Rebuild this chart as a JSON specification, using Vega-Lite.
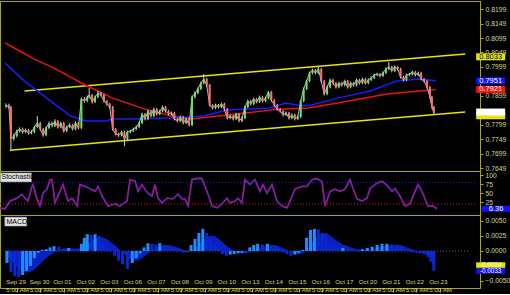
{
  "$schema": "https://vega.github.io/schema/vega-lite/v6.json",
  "background": "black",
  "padding": {"left": -5, "top": 0, "right": 0, "bottom": 0},
  "bounds": "flush",
  "spacing": 0,
  "config": {
    "view": {"stroke": "#a8a800", "strokeWidth": 1, "fill": "black"},
    "axis": {"labelColor": "#d6d68c", "labelFont": "Liberation Sans", "labelFontSize": 7, "domainColor": "#a8a800", "tickColor": "#a8a800", "grid": false, "labelOverlap": false, "labelFlush": false, "labelBound": false},
    "axisY": {"orient": "right", "tickSize": 3, "labelPadding": 2, "labelFontSize": 6.8}
  },
  "datasets": {
    "price": [
      {"t":1,"o":0.7862,"c":0.7867,"hi":0.7873,"lo":0.7856},
      {"t":4,"o":0.7867,"c":0.7860,"hi":0.7872,"lo":0.7855},
      {"t":6,"o":0.7860,"c":0.7750,"hi":0.7864,"lo":0.7711},
      {"t":9,"o":0.7750,"c":0.7760,"hi":0.7768,"lo":0.7744},
      {"t":12,"o":0.7760,"c":0.7777,"hi":0.7782,"lo":0.7755},
      {"t":15,"o":0.7777,"c":0.7784,"hi":0.7790,"lo":0.7772},
      {"t":18,"o":0.7784,"c":0.7774,"hi":0.7789,"lo":0.7768},
      {"t":21,"o":0.7774,"c":0.7781,"hi":0.7786,"lo":0.7769},
      {"t":24,"o":0.7781,"c":0.7770,"hi":0.7785,"lo":0.7765},
      {"t":27,"o":0.7770,"c":0.7774,"hi":0.7780,"lo":0.7766},
      {"t":30,"o":0.7774,"c":0.7791,"hi":0.7796,"lo":0.7770},
      {"t":33,"o":0.7791,"c":0.7805,"hi":0.7829,"lo":0.7787},
      {"t":36,"o":0.7805,"c":0.7784,"hi":0.7809,"lo":0.7779},
      {"t":39,"o":0.7784,"c":0.7763,"hi":0.7788,"lo":0.7758},
      {"t":42,"o":0.7763,"c":0.7788,"hi":0.7793,"lo":0.7759},
      {"t":45,"o":0.7788,"c":0.7805,"hi":0.7810,"lo":0.7784},
      {"t":48,"o":0.7805,"c":0.7795,"hi":0.7809,"lo":0.7790},
      {"t":51,"o":0.7795,"c":0.7812,"hi":0.7818,"lo":0.7791},
      {"t":54,"o":0.7812,"c":0.7791,"hi":0.7816,"lo":0.7786},
      {"t":57,"o":0.7791,"c":0.7805,"hi":0.7810,"lo":0.7787},
      {"t":60,"o":0.7805,"c":0.7777,"hi":0.7809,"lo":0.7772},
      {"t":63,"o":0.7777,"c":0.7791,"hi":0.7796,"lo":0.7773},
      {"t":66,"o":0.7791,"c":0.7798,"hi":0.7804,"lo":0.7787},
      {"t":69,"o":0.7798,"c":0.7784,"hi":0.7802,"lo":0.7779},
      {"t":72,"o":0.7784,"c":0.7805,"hi":0.7810,"lo":0.7780},
      {"t":75,"o":0.7805,"c":0.7788,"hi":0.7809,"lo":0.7783},
      {"t":78,"o":0.7788,"c":0.7888,"hi":0.7893,"lo":0.7784},
      {"t":81,"o":0.7888,"c":0.7881,"hi":0.7895,"lo":0.7875},
      {"t":84,"o":0.7881,"c":0.7895,"hi":0.7900,"lo":0.7877},
      {"t":86,"o":0.7895,"c":0.7902,"hi":0.7926,"lo":0.7890},
      {"t":89,"o":0.7902,"c":0.7878,"hi":0.7906,"lo":0.7872},
      {"t":92,"o":0.7878,"c":0.7895,"hi":0.7900,"lo":0.7874},
      {"t":95,"o":0.7895,"c":0.7909,"hi":0.7916,"lo":0.7891},
      {"t":98,"o":0.7909,"c":0.7902,"hi":0.7913,"lo":0.7897},
      {"t":101,"o":0.7902,"c":0.7881,"hi":0.7906,"lo":0.7876},
      {"t":104,"o":0.7881,"c":0.7871,"hi":0.7885,"lo":0.7866},
      {"t":107,"o":0.7871,"c":0.7860,"hi":0.7875,"lo":0.7855},
      {"t":110,"o":0.7860,"c":0.7784,"hi":0.7864,"lo":0.7779},
      {"t":113,"o":0.7784,"c":0.7767,"hi":0.7788,"lo":0.7762},
      {"t":116,"o":0.7767,"c":0.7763,"hi":0.7771,"lo":0.7757},
      {"t":119,"o":0.7763,"c":0.7774,"hi":0.7779,"lo":0.7759},
      {"t":122,"o":0.7774,"c":0.7750,"hi":0.7778,"lo":0.7725},
      {"t":125,"o":0.7750,"c":0.7774,"hi":0.7779,"lo":0.7746},
      {"t":128,"o":0.7774,"c":0.7777,"hi":0.7782,"lo":0.7769},
      {"t":131,"o":0.7777,"c":0.7784,"hi":0.7789,"lo":0.7773},
      {"t":134,"o":0.7784,"c":0.7791,"hi":0.7796,"lo":0.7780},
      {"t":137,"o":0.7791,"c":0.7805,"hi":0.7810,"lo":0.7787},
      {"t":140,"o":0.7805,"c":0.7836,"hi":0.7841,"lo":0.7801},
      {"t":143,"o":0.7836,"c":0.7819,"hi":0.7840,"lo":0.7814},
      {"t":146,"o":0.7819,"c":0.7846,"hi":0.7851,"lo":0.7815},
      {"t":149,"o":0.7846,"c":0.7829,"hi":0.7850,"lo":0.7824},
      {"t":152,"o":0.7829,"c":0.7853,"hi":0.7858,"lo":0.7825},
      {"t":155,"o":0.7853,"c":0.7836,"hi":0.7857,"lo":0.7831},
      {"t":158,"o":0.7836,"c":0.7846,"hi":0.7851,"lo":0.7832},
      {"t":161,"o":0.7846,"c":0.7860,"hi":0.7866,"lo":0.7842},
      {"t":164,"o":0.7860,"c":0.7846,"hi":0.7864,"lo":0.7841},
      {"t":167,"o":0.7846,"c":0.7836,"hi":0.7850,"lo":0.7831},
      {"t":170,"o":0.7836,"c":0.7840,"hi":0.7845,"lo":0.7832},
      {"t":173,"o":0.7840,"c":0.7819,"hi":0.7844,"lo":0.7814},
      {"t":176,"o":0.7819,"c":0.7812,"hi":0.7823,"lo":0.7807},
      {"t":179,"o":0.7812,"c":0.7826,"hi":0.7831,"lo":0.7808},
      {"t":182,"o":0.7826,"c":0.7805,"hi":0.7830,"lo":0.7800},
      {"t":185,"o":0.7805,"c":0.7819,"hi":0.7824,"lo":0.7801},
      {"t":188,"o":0.7819,"c":0.7798,"hi":0.7823,"lo":0.7793},
      {"t":191,"o":0.7798,"c":0.7895,"hi":0.7900,"lo":0.7794},
      {"t":194,"o":0.7895,"c":0.7909,"hi":0.7914,"lo":0.7890},
      {"t":197,"o":0.7909,"c":0.7923,"hi":0.7928,"lo":0.7905},
      {"t":200,"o":0.7923,"c":0.7943,"hi":0.7948,"lo":0.7919},
      {"t":203,"o":0.7943,"c":0.7957,"hi":0.7974,"lo":0.7939},
      {"t":206,"o":0.7957,"c":0.7936,"hi":0.7961,"lo":0.7931},
      {"t":209,"o":0.7936,"c":0.7867,"hi":0.7940,"lo":0.7862},
      {"t":212,"o":0.7867,"c":0.7857,"hi":0.7871,"lo":0.7852},
      {"t":215,"o":0.7857,"c":0.7867,"hi":0.7872,"lo":0.7853},
      {"t":218,"o":0.7867,"c":0.7860,"hi":0.7871,"lo":0.7855},
      {"t":221,"o":0.7860,"c":0.7871,"hi":0.7876,"lo":0.7856},
      {"t":224,"o":0.7871,"c":0.7853,"hi":0.7875,"lo":0.7848},
      {"t":227,"o":0.7853,"c":0.7822,"hi":0.7857,"lo":0.7817},
      {"t":230,"o":0.7822,"c":0.7829,"hi":0.7834,"lo":0.7818},
      {"t":233,"o":0.7829,"c":0.7819,"hi":0.7833,"lo":0.7814},
      {"t":236,"o":0.7819,"c":0.7836,"hi":0.7841,"lo":0.7815},
      {"t":239,"o":0.7836,"c":0.7812,"hi":0.7840,"lo":0.7807},
      {"t":242,"o":0.7812,"c":0.7822,"hi":0.7827,"lo":0.7808},
      {"t":245,"o":0.7822,"c":0.7860,"hi":0.7865,"lo":0.7818},
      {"t":248,"o":0.7860,"c":0.7881,"hi":0.7886,"lo":0.7856},
      {"t":251,"o":0.7881,"c":0.7871,"hi":0.7885,"lo":0.7866},
      {"t":254,"o":0.7871,"c":0.7888,"hi":0.7893,"lo":0.7867},
      {"t":257,"o":0.7888,"c":0.7878,"hi":0.7892,"lo":0.7873},
      {"t":260,"o":0.7878,"c":0.7895,"hi":0.7900,"lo":0.7874},
      {"t":263,"o":0.7895,"c":0.7881,"hi":0.7899,"lo":0.7876},
      {"t":266,"o":0.7881,"c":0.7891,"hi":0.7896,"lo":0.7877},
      {"t":269,"o":0.7891,"c":0.7912,"hi":0.7917,"lo":0.7887},
      {"t":272,"o":0.7912,"c":0.7884,"hi":0.7916,"lo":0.7879},
      {"t":275,"o":0.7884,"c":0.7867,"hi":0.7888,"lo":0.7862},
      {"t":278,"o":0.7867,"c":0.7853,"hi":0.7871,"lo":0.7848},
      {"t":281,"o":0.7853,"c":0.7846,"hi":0.7857,"lo":0.7841},
      {"t":284,"o":0.7846,"c":0.7833,"hi":0.7850,"lo":0.7828},
      {"t":287,"o":0.7833,"c":0.7840,"hi":0.7845,"lo":0.7829},
      {"t":290,"o":0.7840,"c":0.7822,"hi":0.7844,"lo":0.7817},
      {"t":293,"o":0.7822,"c":0.7833,"hi":0.7838,"lo":0.7818},
      {"t":296,"o":0.7833,"c":0.7819,"hi":0.7837,"lo":0.7814},
      {"t":299,"o":0.7819,"c":0.7826,"hi":0.7831,"lo":0.7815},
      {"t":302,"o":0.7826,"c":0.7881,"hi":0.7886,"lo":0.7822},
      {"t":305,"o":0.7881,"c":0.7923,"hi":0.7928,"lo":0.7877},
      {"t":308,"o":0.7923,"c":0.7950,"hi":0.7955,"lo":0.7919},
      {"t":311,"o":0.7950,"c":0.7978,"hi":0.7983,"lo":0.7946},
      {"t":314,"o":0.7978,"c":0.7988,"hi":0.7993,"lo":0.7974},
      {"t":317,"o":0.7988,"c":0.7978,"hi":0.7992,"lo":0.7973},
      {"t":320,"o":0.7978,"c":0.7992,"hi":0.7999,"lo":0.7974},
      {"t":323,"o":0.7992,"c":0.7950,"hi":0.7996,"lo":0.7945},
      {"t":326,"o":0.7950,"c":0.7905,"hi":0.7954,"lo":0.7900},
      {"t":329,"o":0.7905,"c":0.7929,"hi":0.7934,"lo":0.7901},
      {"t":332,"o":0.7929,"c":0.7954,"hi":0.7959,"lo":0.7925},
      {"t":335,"o":0.7954,"c":0.7943,"hi":0.7958,"lo":0.7938},
      {"t":338,"o":0.7943,"c":0.7929,"hi":0.7947,"lo":0.7924},
      {"t":341,"o":0.7929,"c":0.7943,"hi":0.7948,"lo":0.7925},
      {"t":344,"o":0.7943,"c":0.7936,"hi":0.7947,"lo":0.7931},
      {"t":347,"o":0.7936,"c":0.7950,"hi":0.7955,"lo":0.7932},
      {"t":350,"o":0.7950,"c":0.7929,"hi":0.7954,"lo":0.7924},
      {"t":353,"o":0.7929,"c":0.7943,"hi":0.7948,"lo":0.7925},
      {"t":356,"o":0.7943,"c":0.7936,"hi":0.7947,"lo":0.7931},
      {"t":359,"o":0.7936,"c":0.7954,"hi":0.7959,"lo":0.7932},
      {"t":362,"o":0.7954,"c":0.7943,"hi":0.7958,"lo":0.7938},
      {"t":365,"o":0.7943,"c":0.7957,"hi":0.7962,"lo":0.7939},
      {"t":368,"o":0.7957,"c":0.7943,"hi":0.7961,"lo":0.7938},
      {"t":371,"o":0.7943,"c":0.7954,"hi":0.7959,"lo":0.7939},
      {"t":374,"o":0.7954,"c":0.7961,"hi":0.7966,"lo":0.7950},
      {"t":377,"o":0.7961,"c":0.7971,"hi":0.7976,"lo":0.7957},
      {"t":380,"o":0.7971,"c":0.7974,"hi":0.7979,"lo":0.7967},
      {"t":383,"o":0.7974,"c":0.7968,"hi":0.7978,"lo":0.7963},
      {"t":386,"o":0.7968,"c":0.7978,"hi":0.7983,"lo":0.7964},
      {"t":389,"o":0.7978,"c":0.7992,"hi":0.7997,"lo":0.7974},
      {"t":392,"o":0.7992,"c":0.7999,"hi":0.8016,"lo":0.7988},
      {"t":395,"o":0.7999,"c":0.7985,"hi":0.8003,"lo":0.7980},
      {"t":398,"o":0.7985,"c":0.7999,"hi":0.8004,"lo":0.7981},
      {"t":401,"o":0.7999,"c":0.7992,"hi":0.8003,"lo":0.7987},
      {"t":404,"o":0.7992,"c":0.7964,"hi":0.7996,"lo":0.7959},
      {"t":407,"o":0.7964,"c":0.7954,"hi":0.7968,"lo":0.7949},
      {"t":410,"o":0.7954,"c":0.7971,"hi":0.7976,"lo":0.7950},
      {"t":413,"o":0.7971,"c":0.7974,"hi":0.7979,"lo":0.7967},
      {"t":416,"o":0.7974,"c":0.7981,"hi":0.7986,"lo":0.7970},
      {"t":419,"o":0.7981,"c":0.7971,"hi":0.7985,"lo":0.7966},
      {"t":422,"o":0.7971,"c":0.7978,"hi":0.7983,"lo":0.7967},
      {"t":425,"o":0.7978,"c":0.7957,"hi":0.7982,"lo":0.7952},
      {"t":428,"o":0.7957,"c":0.7950,"hi":0.7961,"lo":0.7945},
      {"t":431,"o":0.7950,"c":0.7929,"hi":0.7954,"lo":0.7924},
      {"t":434,"o":0.7929,"c":0.7895,"hi":0.7933,"lo":0.7890},
      {"t":436,"o":0.7895,"c":0.7860,"hi":0.7899,"lo":0.7855},
      {"t":438,"o":0.7860,"c":0.7840,"hi":0.7864,"lo":0.7836}
    ],
    "ma": [
      {"series":"MA slow","t":0,"v":0.8082},{"series":"MA slow","t":15,"v":0.8054},{"series":"MA slow","t":30,"v":0.8026},{"series":"MA slow","t":50,"v":0.7995},{"series":"MA slow","t":80,"v":0.7940},{"series":"MA slow","t":110,"v":0.7891},{"series":"MA slow","t":143,"v":0.7853},{"series":"MA slow","t":170,"v":0.7829},{"series":"MA slow","t":190,"v":0.7819},{"series":"MA slow","t":237,"v":0.7836},{"series":"MA slow","t":280,"v":0.7853},{"series":"MA slow","t":310,"v":0.7857},{"series":"MA slow","t":340,"v":0.7874},{"series":"MA slow","t":390,"v":0.7905},{"series":"MA slow","t":423,"v":0.7916},{"series":"MA slow","t":440,"v":0.7921},
      {"series":"MA fast","t":0,"v":0.8012},{"series":"MA fast","t":20,"v":0.7950},{"series":"MA fast","t":33,"v":0.7916},{"series":"MA fast","t":53,"v":0.7864},{"series":"MA fast","t":67,"v":0.7829},{"series":"MA fast","t":83,"v":0.7812},{"series":"MA fast","t":103,"v":0.7812},{"series":"MA fast","t":110,"v":0.7819},{"series":"MA fast","t":133,"v":0.7819},{"series":"MA fast","t":170,"v":0.7822},{"series":"MA fast","t":203,"v":0.7829},{"series":"MA fast","t":227,"v":0.7850},{"series":"MA fast","t":270,"v":0.7857},{"series":"MA fast","t":287,"v":0.7874},{"series":"MA fast","t":303,"v":0.7864},{"series":"MA fast","t":313,"v":0.7867},{"series":"MA fast","t":340,"v":0.7891},{"series":"MA fast","t":373,"v":0.7916},{"series":"MA fast","t":400,"v":0.7950},{"series":"MA fast","t":423,"v":0.7957},{"series":"MA fast","t":440,"v":0.7951}
    ],
    "channel": [
      {"line":"upper","t":20,"v":0.7916},{"line":"upper","t":470,"v":0.8044},
      {"line":"lower","t":5,"v":0.7711},{"line":"lower","t":470,"v":0.7843}
    ],
    "mainTags": [
      {"kind":"Upper channel","v":0.8034,"txt":"0.8033"},
      {"kind":"MA fast","v":0.7951,"txt":"0.7951"},
      {"kind":"MA slow","v":0.7921,"txt":"0.7921"},
      {"kind":"Lower channel","v":0.7830,"txt":"0.7834"},
      {"kind":"Bid","v":0.7843,"txt":"0.7839"}
    ],
    "stoch": [
      {"t":0,"k":9},{"t":5,"k":6},{"t":10,"k":28},{"t":17,"k":36},{"t":22,"k":47},{"t":25,"k":36},{"t":28,"k":28},{"t":32,"k":69},{"t":33,"k":74},{"t":37,"k":34},{"t":40,"k":14},{"t":43,"k":50},{"t":47,"k":61},{"t":50,"k":88},{"t":52,"k":88},{"t":55,"k":23},{"t":60,"k":55},{"t":63,"k":74},{"t":65,"k":55},{"t":68,"k":28},{"t":72,"k":36},{"t":77,"k":14},{"t":80,"k":74},{"t":85,"k":69},{"t":90,"k":63},{"t":95,"k":55},{"t":98,"k":69},{"t":102,"k":42},{"t":105,"k":28},{"t":108,"k":14},{"t":115,"k":20},{"t":120,"k":14},{"t":127,"k":28},{"t":130,"k":88},{"t":135,"k":84},{"t":138,"k":55},{"t":142,"k":74},{"t":145,"k":61},{"t":148,"k":50},{"t":152,"k":42},{"t":155,"k":74},{"t":158,"k":36},{"t":162,"k":23},{"t":167,"k":36},{"t":173,"k":34},{"t":178,"k":47},{"t":182,"k":34},{"t":185,"k":34},{"t":188,"k":14},{"t":192,"k":88},{"t":197,"k":91},{"t":202,"k":91},{"t":205,"k":69},{"t":208,"k":47},{"t":212,"k":14},{"t":217,"k":9},{"t":222,"k":20},{"t":227,"k":36},{"t":230,"k":23},{"t":235,"k":28},{"t":238,"k":36},{"t":242,"k":23},{"t":245,"k":88},{"t":250,"k":74},{"t":255,"k":88},{"t":260,"k":55},{"t":263,"k":74},{"t":267,"k":50},{"t":272,"k":74},{"t":277,"k":28},{"t":282,"k":14},{"t":287,"k":9},{"t":290,"k":28},{"t":295,"k":61},{"t":302,"k":69},{"t":307,"k":69},{"t":312,"k":88},{"t":317,"k":91},{"t":322,"k":82},{"t":325,"k":14},{"t":330,"k":55},{"t":335,"k":61},{"t":340,"k":55},{"t":345,"k":61},{"t":350,"k":88},{"t":353,"k":63},{"t":357,"k":34},{"t":362,"k":28},{"t":367,"k":36},{"t":370,"k":63},{"t":375,"k":74},{"t":380,"k":82},{"t":383,"k":82},{"t":388,"k":69},{"t":392,"k":55},{"t":395,"k":63},{"t":400,"k":42},{"t":405,"k":14},{"t":410,"k":20},{"t":413,"k":42},{"t":418,"k":74},{"t":422,"k":55},{"t":425,"k":34},{"t":428,"k":14},{"t":433,"k":14},{"t":437,"k":6.36}
    ],
    "stochLevels": [{"band":"overbought","level":80},{"band":"oversold","level":20}],
    "stochTags": [{"kind":"%K","v":6.36,"txt":"6.36"}],
    "macd": [
      {"t":2,"m":-0.0020,"s":-0.0008},{"t":6,"m":-0.0035,"s":-0.0015},{"t":10,"m":-0.0042,"s":-0.0023},{"t":14,"m":-0.0043,"s":-0.0030},{"t":18,"m":-0.0040,"s":-0.0034},{"t":22,"m":-0.0033,"s":-0.0036},{"t":26,"m":-0.0025,"s":-0.0035},{"t":30,"m":-0.0012,"s":-0.0031},{"t":34,"m":-0.0003,"s":-0.0025},{"t":38,"m":0.0002,"s":-0.0018},{"t":42,"m":0.0003,"s":-0.0012},{"t":46,"m":0.0006,"s":-0.0007},{"t":50,"m":0.0008,"s":-0.0003},{"t":55,"m":0.0007,"s":0.0002},{"t":60,"m":0.0004,"s":0.0004},{"t":65,"m":0.0005,"s":0.0005},{"t":70,"m":0.0003,"s":0.0004},{"t":74,"m":0.0002,"s":0.0004},{"t":78,"m":0.0012,"s":0.0005},{"t":81,"m":0.0022,"s":0.0008},{"t":84,"m":0.0028,"s":0.0012},{"t":88,"m":0.0027,"s":0.0017},{"t":92,"m":0.0028,"s":0.0021},{"t":96,"m":0.0025,"s":0.0023},{"t":100,"m":0.0013,"s":0.0023},{"t":104,"m":0.0005,"s":0.0020},{"t":108,"m":-0.0001,"s":0.0015},{"t":112,"m":-0.0008,"s":0.0010},{"t":116,"m":-0.0016,"s":0.0004},{"t":120,"m":-0.0022,"s":-0.0003},{"t":125,"m":-0.0030,"s":-0.0010},{"t":130,"m":-0.0020,"s":-0.0015},{"t":134,"m":-0.0012,"s":-0.0016},{"t":138,"m":-0.0004,"s":-0.0014},{"t":142,"m":0.0006,"s":-0.0010},{"t":146,"m":0.0013,"s":-0.0004},{"t":150,"m":0.0012,"s":0.0001},{"t":154,"m":0.0011,"s":0.0005},{"t":158,"m":0.0013,"s":0.0008},{"t":162,"m":0.0009,"s":0.0010},{"t":166,"m":0.0006,"s":0.0010},{"t":170,"m":0.0005,"s":0.0009},{"t":174,"m":0.0002,"s":0.0007},{"t":178,"m":-0.0001,"s":0.0005},{"t":182,"m":-0.0003,"s":0.0002},{"t":186,"m":-0.0001,"s":0.0000},{"t":190,"m":0.0010,"s":0.0001},{"t":194,"m":0.0020,"s":0.0005},{"t":198,"m":0.0030,"s":0.0010},{"t":202,"m":0.0037,"s":0.0017},{"t":206,"m":0.0030,"s":0.0023},{"t":210,"m":0.0022,"s":0.0026},{"t":214,"m":0.0010,"s":0.0025},{"t":218,"m":0.0003,"s":0.0021},{"t":222,"m":-0.0005,"s":0.0015},{"t":226,"m":-0.0008,"s":0.0009},{"t":230,"m":-0.0006,"s":0.0004},{"t":234,"m":-0.0005,"s":0.0000},{"t":238,"m":-0.0004,"s":-0.0003},{"t":242,"m":-0.0003,"s":-0.0004},{"t":246,"m":0.0000,"s":-0.0004},{"t":250,"m":0.0006,"s":-0.0002},{"t":254,"m":0.0010,"s":0.0001},{"t":258,"m":0.0012,"s":0.0004},{"t":263,"m":0.0011,"s":0.0007},{"t":268,"m":0.0012,"s":0.0009},{"t":272,"m":0.0010,"s":0.0010},{"t":276,"m":0.0007,"s":0.0010},{"t":280,"m":0.0003,"s":0.0008},{"t":284,"m":-0.0002,"s":0.0005},{"t":288,"m":-0.0005,"s":0.0002},{"t":292,"m":-0.0008,"s":-0.0002},{"t":296,"m":-0.0006,"s":-0.0004},{"t":300,"m":-0.0003,"s":-0.0005},{"t":304,"m":0.0002,"s":-0.0004},{"t":308,"m":0.0022,"s":0.0001},{"t":312,"m":0.0035,"s":0.0010},{"t":316,"m":0.0037,"s":0.0019},{"t":320,"m":0.0036,"s":0.0026},{"t":324,"m":0.0030,"s":0.0030},{"t":328,"m":0.0020,"s":0.0030},{"t":332,"m":0.0010,"s":0.0026},{"t":336,"m":0.0007,"s":0.0021},{"t":340,"m":0.0005,"s":0.0016},{"t":345,"m":0.0005,"s":0.0011},{"t":350,"m":0.0003,"s":0.0008},{"t":355,"m":0.0000,"s":0.0005},{"t":360,"m":-0.0001,"s":0.0003},{"t":365,"m":0.0003,"s":0.0002},{"t":370,"m":0.0005,"s":0.0002},{"t":375,"m":0.0007,"s":0.0003},{"t":380,"m":0.0010,"s":0.0005},{"t":385,"m":0.0012,"s":0.0007},{"t":390,"m":0.0012,"s":0.0009},{"t":395,"m":0.0011,"s":0.0010},{"t":400,"m":0.0010,"s":0.0010},{"t":404,"m":0.0007,"s":0.0010},{"t":408,"m":0.0000,"s":0.0008},{"t":412,"m":-0.0001,"s":0.0005},{"t":416,"m":-0.0002,"s":0.0003},{"t":420,"m":-0.0003,"s":0.0001},{"t":424,"m":-0.0004,"s":-0.0001},{"t":428,"m":-0.0005,"s":-0.0004},{"t":432,"m":-0.0010,"s":-0.0008},{"t":435,"m":-0.0018,"s":-0.0015},{"t":438,"m":-0.0033,"s":-0.0024}
    ],
    "macdTags": [{"kind":"Signal","v":-0.0024,"txt":"-0.0024"},{"kind":"MACD","v":-0.0033,"txt":"-0.0033"}]
  },
  "vconcat": [
    {
      "width": 480, "height": 170,
      "layer": [
        {
          "data": {"name": "channel"},
          "mark": {"type": "line", "color": "#e6e600", "strokeWidth": 1.5},
          "encoding": {
            "x": {"field": "t", "type": "quantitative", "scale": {"domain": [0, 480], "nice": false, "zero": false}, "axis": null},
            "y": {"field": "v", "type": "quantitative", "title": null, "scale": {"domain": [0.7639, 0.8227], "nice": false, "zero": false},
                  "axis": {"orient": "right", "title": null, "values": [0.7649,0.7699,0.7749,0.7799,0.7899,0.7999,0.8049,0.8099,0.8149,0.8199], "format": ".4f"}},
            "detail": {"field": "line"}
          }
        },
        {
          "data": {"name": "ma"},
          "mark": {"type": "line", "strokeWidth": 1.5},
          "encoding": {
            "x": {"field": "t", "type": "quantitative", "scale": {"domain": [0, 480], "nice": false, "zero": false}, "axis": null},
            "y": {"field": "v", "type": "quantitative", "title": null, "scale": {"domain": [0.7639, 0.8227], "nice": false, "zero": false},
                  "axis": {"orient": "right", "title": null, "values": [0.7649,0.7699,0.7749,0.7799,0.7899,0.7999,0.8049,0.8099,0.8149,0.8199], "format": ".4f"}},
            "color": {"field": "series", "type": "nominal", "scale": {"domain": ["MA fast", "MA slow"], "range": ["#1a1aff", "#ee1111"]}, "legend": null}
          }
        },
        {
          "data": {"name": "price"},
          "mark": {"type": "rule", "color": "#d0d0d0", "strokeWidth": 1},
          "encoding": {
            "x": {"field": "t", "type": "quantitative", "scale": {"domain": [0, 480], "nice": false, "zero": false}, "axis": null},
            "y": {"field": "lo", "type": "quantitative", "title": null, "scale": {"domain": [0.7639, 0.8227], "nice": false, "zero": false},
                  "axis": {"orient": "right", "title": null, "values": [0.7649,0.7699,0.7749,0.7799,0.7899,0.7999,0.8049,0.8099,0.8149,0.8199], "format": ".4f"}},
            "y2": {"field": "hi"}
          }
        },
        {
          "data": {"name": "price"},
          "mark": {"type": "line", "color": "#e8e8e8", "strokeWidth": 0.8},
          "encoding": {
            "x": {"field": "t", "type": "quantitative", "scale": {"domain": [0, 480], "nice": false, "zero": false}, "axis": null},
            "y": {"field": "c", "type": "quantitative", "title": null, "scale": {"domain": [0.7639, 0.8227], "nice": false, "zero": false},
                  "axis": {"orient": "right", "title": null, "values": [0.7649,0.7699,0.7749,0.7799,0.7899,0.7999,0.8049,0.8099,0.8149,0.8199], "format": ".4f"}}
          }
        },
        {
          "data": {"name": "price"},
          "mark": {"type": "bar", "size": 2},
          "encoding": {
            "x": {"field": "t", "type": "quantitative", "scale": {"domain": [0, 480], "nice": false, "zero": false}, "axis": null},
            "y": {"field": "o", "type": "quantitative", "title": null, "scale": {"domain": [0.7639, 0.8227], "nice": false, "zero": false},
                  "axis": {"orient": "right", "title": null, "values": [0.7649,0.7699,0.7749,0.7799,0.7899,0.7999,0.8049,0.8099,0.8149,0.8199], "format": ".4f"}},
            "y2": {"field": "c"},
            "color": {"condition": {"test": "datum.c >= datum.o", "value": "#66e066"}, "value": "#ff6f6f"}
          }
        },
        {
          "data": {"name": "mainTags"},
          "mark": {"type": "point", "shape": "M-1,-0.24H1V0.24H-1Z", "size": 841, "filled": true, "opacity": 1, "clip": false},
          "encoding": {
            "x": {"datum": 496, "type": "quantitative", "scale": {"domain": [0, 480], "nice": false, "zero": false}, "axis": null},
            "y": {"field": "v", "type": "quantitative", "title": null, "scale": {"domain": [0.7639, 0.8227], "nice": false, "zero": false},
                  "axis": {"orient": "right", "title": null, "values": [0.7649,0.7699,0.7749,0.7799,0.7899,0.7999,0.8049,0.8099,0.8149,0.8199], "format": ".4f"}},
            "fill": {"field": "kind", "type": "nominal", "scale": {"domain": ["Upper channel", "MA fast", "MA slow", "Lower channel", "Bid"], "range": ["#e6e600", "#1010ff", "#ff1010", "#e6e600", "#ffffff"]}, "legend": null}
          }
        },
        {
          "data": {"name": "mainTags"},
          "transform": [{"filter": "datum.kind != 'Bid' && datum.kind != 'Lower channel'"}],
          "mark": {"type": "text", "font": "Liberation Sans", "fontSize": 7.5, "align": "center", "baseline": "middle", "clip": false},
          "encoding": {
            "x": {"datum": 496, "type": "quantitative", "scale": {"domain": [0, 480], "nice": false, "zero": false}, "axis": null},
            "y": {"field": "v", "type": "quantitative", "title": null, "scale": {"domain": [0.7639, 0.8227], "nice": false, "zero": false},
                  "axis": {"orient": "right", "title": null, "values": [0.7649,0.7699,0.7749,0.7799,0.7899,0.7999,0.8049,0.8099,0.8149,0.8199], "format": ".4f"}},
            "text": {"field": "txt"},
            "color": {"condition": {"test": "datum.kind == 'MA fast' || datum.kind == 'MA slow'", "value": "#ffffff"}, "value": "#000000"}
          }
        }
      ]
    },
    {
      "width": 480, "height": 44,
      "layer": [
        {
          "data": {"name": "stochLevels"},
          "mark": {"type": "rule", "strokeDash": [1, 2], "strokeWidth": 1},
          "encoding": {
            "x": {"datum": 0, "type": "quantitative", "scale": {"domain": [0, 480], "nice": false, "zero": false}, "axis": null},
            "x2": {"datum": 475},
            "y": {"field": "level", "type": "quantitative", "title": null, "scale": {"domain": [-11, 112], "nice": false, "zero": false},
                  "axis": {"orient": "right", "title": null, "values": [25, 50, 75, 100]}},
            "color": {"field": "band", "type": "nominal", "scale": {"domain": ["overbought", "oversold"], "range": ["#3030ff", "#e02020"]}, "legend": null}
          }
        },
        {
          "data": {"name": "stoch"},
          "mark": {"type": "line", "color": "#2a2aff", "strokeWidth": 1.8},
          "encoding": {
            "x": {"field": "t", "type": "quantitative", "scale": {"domain": [0, 480], "nice": false, "zero": false}, "axis": null},
            "y": {"field": "k", "type": "quantitative", "title": null, "scale": {"domain": [-11, 112], "nice": false, "zero": false},
                  "axis": {"orient": "right", "title": null, "values": [25, 50, 75, 100]}}
          }
        },
        {
          "data": {"name": "stoch"},
          "mark": {"type": "line", "color": "#d4103a", "strokeWidth": 1},
          "encoding": {
            "x": {"field": "t", "type": "quantitative", "scale": {"domain": [0, 480], "nice": false, "zero": false}, "axis": null},
            "y": {"field": "k", "type": "quantitative", "title": null, "scale": {"domain": [-11, 112], "nice": false, "zero": false},
                  "axis": {"orient": "right", "title": null, "values": [25, 50, 75, 100]}}
          }
        },
        {
          "data": {"values": [{"panel": "Stochastic"}]},
          "mark": {"type": "point", "shape": "M-1,-0.29H1V0.29H-1Z", "size": 961, "filled": true, "fill": "#e4e4e4", "stroke": "#808080", "strokeWidth": 0.5, "opacity": 1},
          "encoding": {
            "x": {"datum": 16, "type": "quantitative", "scale": {"domain": [0, 480], "nice": false, "zero": false}, "axis": null},
            "y": {"datum": 94, "type": "quantitative", "title": null, "scale": {"domain": [-11, 112], "nice": false, "zero": false},
                  "axis": {"orient": "right", "title": null, "values": [25, 50, 75, 100]}}
          }
        },
        {
          "data": {"values": [{"panel": "Stochastic"}]},
          "mark": {"type": "text", "font": "Liberation Sans", "fontSize": 7, "color": "#000000", "align": "left", "baseline": "middle"},
          "encoding": {
            "x": {"datum": 1.5, "type": "quantitative", "scale": {"domain": [0, 480], "nice": false, "zero": false}, "axis": null},
            "y": {"datum": 94, "type": "quantitative", "title": null, "scale": {"domain": [-11, 112], "nice": false, "zero": false},
                  "axis": {"orient": "right", "title": null, "values": [25, 50, 75, 100]}},
            "text": {"field": "panel"}
          }
        },
        {
          "data": {"name": "stochTags"},
          "mark": {"type": "point", "shape": "M-1,-0.21H1V0.21H-1Z", "size": 841, "filled": true, "fill": "#1010ff", "opacity": 1, "clip": false},
          "encoding": {
            "x": {"datum": 496, "type": "quantitative", "scale": {"domain": [0, 480], "nice": false, "zero": false}, "axis": null},
            "y": {"field": "v", "type": "quantitative", "title": null, "scale": {"domain": [-11, 112], "nice": false, "zero": false},
                  "axis": {"orient": "right", "title": null, "values": [25, 50, 75, 100]}}
          }
        },
        {
          "data": {"name": "stochTags"},
          "mark": {"type": "text", "font": "Liberation Sans", "fontSize": 7.5, "color": "#ffffff", "align": "center", "baseline": "middle", "clip": false},
          "encoding": {
            "x": {"datum": 496, "type": "quantitative", "scale": {"domain": [0, 480], "nice": false, "zero": false}, "axis": null},
            "y": {"field": "v", "type": "quantitative", "title": null, "scale": {"domain": [-11, 112], "nice": false, "zero": false},
                  "axis": {"orient": "right", "title": null, "values": [25, 50, 75, 100]}},
            "text": {"field": "txt"}
          }
        }
      ]
    },
    {
      "width": 480, "height": 73,
      "layer": [
        {
          "data": {"values": [{"level": 0}]},
          "mark": {"type": "rule", "strokeDash": [1, 2], "color": "#6a6a6a"},
          "encoding": {
            "x": {"datum": 0, "type": "quantitative", "scale": {"domain": [0, 480], "nice": false, "zero": false},
                  "axis": {"title": null, "values": [12,36,60,84,108,132,156,180,204,228,252,276,300,324,348,372,396,420,444], "labelExpr": "[['Sep 29','Sep 30','Oct 01','Oct 02','Oct 03','Oct 06','Oct 07','Oct 08','Oct 09','Oct 10','Oct 13','Oct 14','Oct 15','Oct 16','Oct 17','Oct 20','Oct 21','Oct 22','Oct 23'][round((datum.value-12)/24)], '5:00 AM']", "labelOverlap": false, "tickSize": 4, "labelPadding": -14, "labelLineHeight": 8.5, "labelFontSize": 6.2, "labelAlign": "left", "labelOffset": -11, "labelColor": "#d8d870", "domain": false}},
            "x2": {"datum": 475},
            "y": {"field": "level", "type": "quantitative", "title": null, "scale": {"domain": [-0.00617, 0.006], "nice": false, "zero": false},
                  "axis": {"orient": "right", "title": null, "values": [-0.005, 0, 0.0025, 0.005], "format": ".4f"}}
          }
        },
        {
          "data": {"name": "macd"},
          "mark": {"type": "area", "color": "#0b20c0", "opacity": 1},
          "encoding": {
            "x": {"field": "t", "type": "quantitative", "scale": {"domain": [0, 480], "nice": false, "zero": false},
                  "axis": {"title": null, "values": [12,36,60,84,108,132,156,180,204,228,252,276,300,324,348,372,396,420,444], "labelExpr": "[['Sep 29','Sep 30','Oct 01','Oct 02','Oct 03','Oct 06','Oct 07','Oct 08','Oct 09','Oct 10','Oct 13','Oct 14','Oct 15','Oct 16','Oct 17','Oct 20','Oct 21','Oct 22','Oct 23'][round((datum.value-12)/24)], '5:00 AM']", "labelOverlap": false, "tickSize": 4, "labelPadding": -14, "labelLineHeight": 8.5, "labelFontSize": 6.2, "labelAlign": "left", "labelOffset": -11, "labelColor": "#d8d870", "domain": false}},
            "y": {"field": "s", "type": "quantitative", "title": null, "scale": {"domain": [-0.00617, 0.006], "nice": false, "zero": false},
                  "axis": {"orient": "right", "title": null, "values": [-0.005, 0, 0.0025, 0.005], "format": ".4f"}}
          }
        },
        {
          "data": {"name": "macd"},
          "transform": [{"window": [{"op": "lag", "field": "m", "as": "pm"}], "sort": [{"field": "t"}]}],
          "mark": {"type": "bar", "size": 3},
          "encoding": {
            "x": {"field": "t", "type": "quantitative", "scale": {"domain": [0, 480], "nice": false, "zero": false},
                  "axis": {"title": null, "values": [12,36,60,84,108,132,156,180,204,228,252,276,300,324,348,372,396,420,444], "labelExpr": "[['Sep 29','Sep 30','Oct 01','Oct 02','Oct 03','Oct 06','Oct 07','Oct 08','Oct 09','Oct 10','Oct 13','Oct 14','Oct 15','Oct 16','Oct 17','Oct 20','Oct 21','Oct 22','Oct 23'][round((datum.value-12)/24)], '5:00 AM']", "labelOverlap": false, "tickSize": 4, "labelPadding": -14, "labelLineHeight": 8.5, "labelFontSize": 6.2, "labelAlign": "left", "labelOffset": -11, "labelColor": "#d8d870", "domain": false}},
            "y": {"field": "m", "type": "quantitative", "title": null, "scale": {"domain": [-0.00617, 0.006], "nice": false, "zero": false},
                  "axis": {"orient": "right", "title": null, "values": [-0.005, 0, 0.0025, 0.005], "format": ".4f"}},
            "color": {"condition": {"test": "datum.pm == null || datum.m >= datum.pm", "value": "#1e8cff"}, "value": "#0a28d0"}
          }
        },
        {
          "data": {"values": [{"panel": "MACD"}]},
          "mark": {"type": "point", "shape": "M-1,-0.41H1V0.41H-1Z", "size": 484, "filled": true, "fill": "#e4e4e4", "stroke": "#808080", "strokeWidth": 0.5, "opacity": 1},
          "encoding": {
            "x": {"datum": 11, "type": "quantitative", "scale": {"domain": [0, 480], "nice": false, "zero": false},
                  "axis": {"title": null, "values": [12,36,60,84,108,132,156,180,204,228,252,276,300,324,348,372,396,420,444], "labelExpr": "[['Sep 29','Sep 30','Oct 01','Oct 02','Oct 03','Oct 06','Oct 07','Oct 08','Oct 09','Oct 10','Oct 13','Oct 14','Oct 15','Oct 16','Oct 17','Oct 20','Oct 21','Oct 22','Oct 23'][round((datum.value-12)/24)], '5:00 AM']", "labelOverlap": false, "tickSize": 4, "labelPadding": -14, "labelLineHeight": 8.5, "labelFontSize": 6.2, "labelAlign": "left", "labelOffset": -11, "labelColor": "#d8d870", "domain": false}},
            "y": {"datum": 0.0049, "type": "quantitative", "title": null, "scale": {"domain": [-0.00617, 0.006], "nice": false, "zero": false},
                  "axis": {"orient": "right", "title": null, "values": [-0.005, 0, 0.0025, 0.005], "format": ".4f"}}
          }
        },
        {
          "data": {"values": [{"panel": "MACD"}]},
          "mark": {"type": "text", "font": "Liberation Sans", "fontSize": 7, "color": "#000000", "align": "left", "baseline": "middle"},
          "encoding": {
            "x": {"datum": 1.5, "type": "quantitative", "scale": {"domain": [0, 480], "nice": false, "zero": false},
                  "axis": {"title": null, "values": [12,36,60,84,108,132,156,180,204,228,252,276,300,324,348,372,396,420,444], "labelExpr": "[['Sep 29','Sep 30','Oct 01','Oct 02','Oct 03','Oct 06','Oct 07','Oct 08','Oct 09','Oct 10','Oct 13','Oct 14','Oct 15','Oct 16','Oct 17','Oct 20','Oct 21','Oct 22','Oct 23'][round((datum.value-12)/24)], '5:00 AM']", "labelOverlap": false, "tickSize": 4, "labelPadding": -14, "labelLineHeight": 8.5, "labelFontSize": 6.2, "labelAlign": "left", "labelOffset": -11, "labelColor": "#d8d870", "domain": false}},
            "y": {"datum": 0.0049, "type": "quantitative", "title": null, "scale": {"domain": [-0.00617, 0.006], "nice": false, "zero": false},
                  "axis": {"orient": "right", "title": null, "values": [-0.005, 0, 0.0025, 0.005], "format": ".4f"}},
            "text": {"field": "panel"}
          }
        },
        {
          "data": {"name": "macdTags"},
          "mark": {"type": "point", "shape": "M-1,-0.21H1V0.21H-1Z", "size": 841, "filled": true, "opacity": 1, "clip": false},
          "encoding": {
            "x": {"datum": 496, "type": "quantitative", "scale": {"domain": [0, 480], "nice": false, "zero": false},
                  "axis": {"title": null, "values": [12,36,60,84,108,132,156,180,204,228,252,276,300,324,348,372,396,420,444], "labelExpr": "[['Sep 29','Sep 30','Oct 01','Oct 02','Oct 03','Oct 06','Oct 07','Oct 08','Oct 09','Oct 10','Oct 13','Oct 14','Oct 15','Oct 16','Oct 17','Oct 20','Oct 21','Oct 22','Oct 23'][round((datum.value-12)/24)], '5:00 AM']", "labelOverlap": false, "tickSize": 4, "labelPadding": -14, "labelLineHeight": 8.5, "labelFontSize": 6.2, "labelAlign": "left", "labelOffset": -11, "labelColor": "#d8d870", "domain": false}},
            "y": {"field": "v", "type": "quantitative", "title": null, "scale": {"domain": [-0.00617, 0.006], "nice": false, "zero": false},
                  "axis": {"orient": "right", "title": null, "values": [-0.005, 0, 0.0025, 0.005], "format": ".4f"}},
            "fill": {"field": "kind", "type": "nominal", "scale": {"domain": ["Signal", "MACD"], "range": ["#1010ff", "#ee1010"]}, "legend": null}
          }
        },
        {
          "data": {"name": "macdTags"},
          "mark": {"type": "text", "font": "Liberation Sans", "fontSize": 6.3, "color": "#ffffff", "align": "center", "baseline": "middle", "clip": false},
          "encoding": {
            "x": {"datum": 496, "type": "quantitative", "scale": {"domain": [0, 480], "nice": false, "zero": false},
                  "axis": {"title": null, "values": [12,36,60,84,108,132,156,180,204,228,252,276,300,324,348,372,396,420,444], "labelExpr": "[['Sep 29','Sep 30','Oct 01','Oct 02','Oct 03','Oct 06','Oct 07','Oct 08','Oct 09','Oct 10','Oct 13','Oct 14','Oct 15','Oct 16','Oct 17','Oct 20','Oct 21','Oct 22','Oct 23'][round((datum.value-12)/24)], '5:00 AM']", "labelOverlap": false, "tickSize": 4, "labelPadding": -14, "labelLineHeight": 8.5, "labelFontSize": 6.2, "labelAlign": "left", "labelOffset": -11, "labelColor": "#d8d870", "domain": false}},
            "y": {"field": "v", "type": "quantitative", "title": null, "scale": {"domain": [-0.00617, 0.006], "nice": false, "zero": false},
                  "axis": {"orient": "right", "title": null, "values": [-0.005, 0, 0.0025, 0.005], "format": ".4f"}},
            "text": {"field": "txt"}
          }
        }
      ]
    }
  ]
}
